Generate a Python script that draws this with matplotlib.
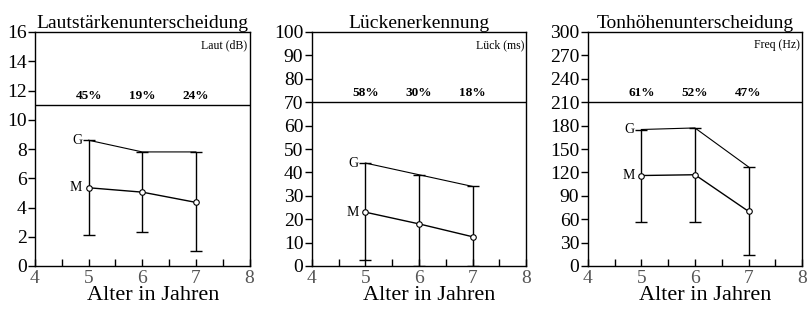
import numpy as np
import matplotlib.pyplot as plt
from matplotlib.ticker import MultipleLocator

plt.rcParams['font.family'] = ['Liberation Serif', 'DejaVu Serif']

alter = [5, 6, 7]

titel = ["Lautstärkenunterscheidung", "Lückenerkennung", "Tonhöhenunterscheidung"]
einheit = ["Laut (dB)", "Lück (ms)", "Freq (Hz)"]
ymax = [16, 100, 300]
ystep = [2, 10, 30]
grenze = [11, 70, 210]
prozent = [["45%", "19%", "24%"], ["58%", "30%", "18%"], ["61%", "52%", "47%"]]

# M = Mittelwert, G = obere Grenze, U = untere Grenze
M = [[5.35, 5.05, 4.35], [23, 18, 12.5], [116, 117, 70]]
G = [[8.6, 7.8, 7.8], [44, 39, 34], [175, 177, 127]]
U = [[2.15, 2.3, 1.0], [2.5, 0, 0], [57, 57, 14]]

fig = plt.figure(figsize=(8.08, 3.14), dpi=100)
lefts = [35, 311.7, 587.7]
breite = 214.5

for i in range(3):
    ax = fig.add_axes([lefts[i] / 808, 1 - 266 / 314, breite / 808, 234 / 314])
    m = np.array(M[i]); g = np.array(G[i]); u = np.array(U[i])
    ax.errorbar(alter, m, yerr=[m - u, g - m], fmt='none', ecolor='black',
                elinewidth=1, capsize=4, capthick=1)
    ax.plot(alter, m, color='black', lw=1, marker='o', ms=4, mfc='white', mec='black', mew=0.8)
    ax.plot(alter, g, color='black', lw=0.8)
    ax.axhline(grenze[i], color='black', lw=1)
    for x, p in zip(alter, prozent[i]):
        ax.text(x, grenze[i] + ymax[i] * 0.015, p, ha='center', va='bottom', fontsize=9.5, fontweight='bold')
    ax.text(4.88, m[0], "M", ha='right', va='center', fontsize=10)
    ax.text(4.88, g[0], "G", ha='right', va='center', fontsize=10)
    ax.text(0.99, 0.97, einheit[i], transform=ax.transAxes, ha='right', va='top', fontsize=8.5)
    ax.set_xlim(4, 8)
    ax.set_ylim(0, ymax[i])
    ax.xaxis.set_major_locator(MultipleLocator(1))
    ax.xaxis.set_minor_locator(MultipleLocator(0.5))
    ax.yaxis.set_major_locator(MultipleLocator(ystep[i]))
    ax.tick_params(axis='x', which='both', direction='in', length=5, width=1, labelsize=14, pad=3,
                   labelcolor='#555555')
    ax.tick_params(axis='y', direction='out', length=5, width=1, labelsize=14, pad=1)
    for s in ax.spines.values():
        s.set_linewidth(1)
    ax.set_title(titel[i], fontsize=14, pad=2)
    ax.set_xlabel("Alter in Jahren", fontsize=16)
    ax.xaxis.set_label_coords(0.55, -0.085, transform=ax.transAxes)
    ax.xaxis.label.set_va('top')

plt.savefig("out.png", dpi=100)
